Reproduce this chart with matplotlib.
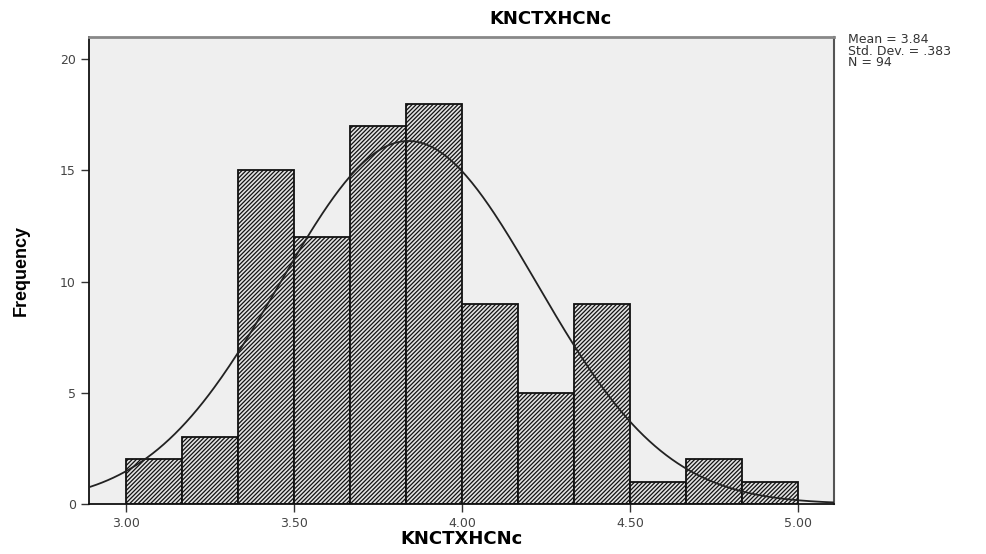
import numpy as np
import matplotlib
matplotlib.use("Agg")
import matplotlib.pyplot as plt

# histogram data
bin_edges = [3.0, 3.1667, 3.3333, 3.5, 3.6667, 3.8333, 4.0, 4.1667, 4.3333, 4.5, 4.6667, 4.8333, 5.0]
counts = [2, 3, 15, 12, 17, 18, 9, 5, 9, 1, 2, 1]
mean = 3.84
std = 0.383
n = 94
xticks = [3.0, 3.5, 4.0, 4.5, 5.0]
xticklabels = ["3.00", "3.50", "4.00", "4.50", "5.00"]
yticks = [0, 5, 10, 15, 20]

plt.rcParams['font.family'] = ['DejaVu Sans']
plt.rcParams['hatch.color'] = '#333333'
plt.rcParams['hatch.linewidth'] = 0.9

fig = plt.figure(figsize=(9.87, 5.54), dpi=100)
ax = fig.add_axes([0.0902, 0.0903, 0.755, 0.843])
ax.set_facecolor('#efefef')

widths = np.diff(bin_edges)
ax.bar(bin_edges[:-1], counts, width=widths, align='edge',
       facecolor='#e2e2e2', edgecolor='#111111', linewidth=1.3, hatch='////////', zorder=2)

# normal curve scaled to counts
bw = widths[0]
xs = np.linspace(2.89, 5.107, 400)
ys = n * bw / (std * np.sqrt(2 * np.pi)) * np.exp(-0.5 * ((xs - mean) / std) ** 2)
ax.plot(xs, ys, color='#222222', linewidth=1.3, zorder=3)

ax.set_xlim(2.89, 5.107)
ax.set_ylim(0, 21)
ax.set_xticks(xticks)
ax.set_xticklabels(xticklabels)
ax.set_yticks(yticks)
ax.tick_params(axis='both', direction='out', length=6, width=1, labelsize=9,
               colors='#333333', labelcolor='#444444')

for s in ['left', 'bottom']:
    ax.spines[s].set_color('#111111')
    ax.spines[s].set_linewidth(1.3)
ax.spines['top'].set_color('#888888')
ax.spines['top'].set_linewidth(2)
ax.spines['right'].set_color('#555555')
ax.spines['right'].set_linewidth(1.5)

ax.set_xlabel("KNCTXHCNc", fontsize=13, fontweight='bold', labelpad=0)
ax.set_ylabel("Frequency", fontsize=13, fontweight='bold', family='Liberation Sans', labelpad=22)

fig.text(0.558, 0.966, "KNCTXHCNc", ha='center', va='center', fontsize=13, fontweight='bold')
fig.text(0.859, 0.94, "Mean = %.2f\nStd. Dev. = .%d\nN = %d" % (mean, round(std * 1000), n),
         ha='left', va='top', fontsize=9, linespacing=0.85, color='#333333')

fig.savefig("out.png", dpi=100)
